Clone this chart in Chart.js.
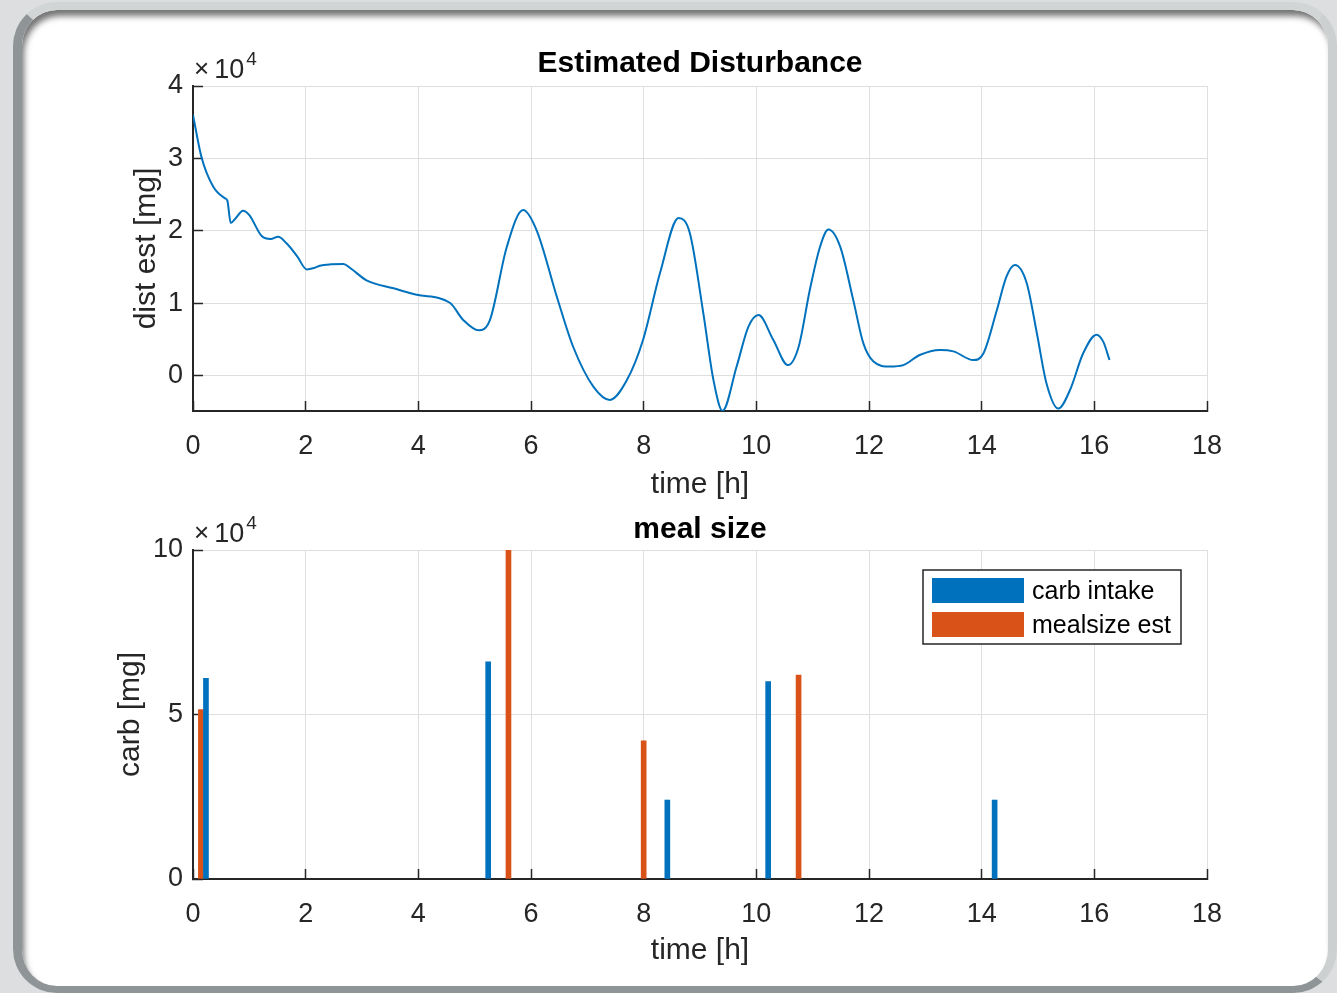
<!DOCTYPE html>
<html><head><meta charset="utf-8">
<script src="https://cdn.jsdelivr.net/npm/chart.js@4.4.0/dist/chart.umd.min.js"></script>
<style>
html,body{margin:0;padding:0;background:#dcdedf;width:1337px;height:993px;overflow:hidden;}
#frame{position:absolute;left:13px;top:2px;width:1324px;height:991px;box-sizing:border-box;border-radius:44px;background:#fff;border-style:solid;border-width:8px 9px 7px 9px;border-color:#d2d5d6 #cdd0d1 #8f9496 #8f9496;box-shadow:inset 3px 7px 6px -1px rgba(0,0,0,0.55);}
canvas{position:absolute;left:0;}
#c1{top:0}
#c2{top:500px}
</style></head>
<body>
<div id="frame"></div>
<canvas id="c1" width="1337" height="503"></canvas>
<canvas id="c2" width="1337" height="493"></canvas>
<script>
// ---- data ----
const timeH = [0, 0.15, 0.36, 0.57, 0.61, 0.67, 0.75, 0.89, 1.0, 1.22, 1.38, 1.51, 1.66, 1.85, 2.02, 2.15, 2.25, 2.45, 2.67, 2.79, 3.08, 3.56, 3.97, 4.56, 4.8, 5.07, 5.27, 5.57, 5.86, 6.1, 6.46, 6.75, 7.11, 7.4, 7.7, 7.99, 8.29, 8.62, 8.82, 9.06, 9.24, 9.4, 9.65, 9.86, 10.04, 10.3, 10.56, 10.75, 10.95, 11.13, 11.28, 11.49, 11.72, 11.9, 12.08, 12.37, 12.61, 12.9, 13.26, 13.5, 13.85, 14.03, 14.27, 14.44, 14.59, 14.8, 14.98, 15.15, 15.36, 15.57, 15.8, 16.04, 16.16, 16.27];
const distEst = [36000, 30200, 26100, 24500, 24200, 21100, 21700, 22800, 22200, 19300, 18900, 19200, 18300, 16500, 14700, 14900, 15200, 15400, 15450, 14900, 13200, 12100, 11200, 10100, 7700, 6300, 7700, 17800, 22900, 20100, 10900, 4000, -1500, -3300, -600, 5000, 14200, 21800, 19700, 8600, -600, -4800, 1300, 6800, 8400, 5000, 1500, 4000, 11900, 17800, 20200, 17800, 10500, 4500, 2000, 1300, 1500, 2900, 3600, 3400, 2200, 3100, 9100, 13700, 15300, 12800, 5900, -1000, -4500, -1900, 3100, 5700, 4700, 2200];
const carbTimes = [0.23, 5.24, 8.42, 10.21, 14.23];
const carbIntake = [61000, 66000, 24000, 60000, 24000];
const mealTimes = [0.14, 5.6, 8.0, 10.75];
const mealEst = [51500, 100000, 42000, 62000];
const xTickValues = [0, 2, 4, 6, 8, 10, 12, 14, 16, 18];
const yTopTickValues = [0, 10000, 20000, 30000, 40000];
const yBotTickValues = [0, 50000, 100000];
const seriesNames = ['carb intake', 'mealsize est'];

const FONT = "'Liberation Sans', Arial, Helvetica, sans-serif";
const BLUE = '#0072BD', ORANGE = '#D95319', AX = '#262626', GRID = '#dfdfdf';

const expPlugin = {
  id: 'exp',
  afterDraw(chart) {
    const ctx = chart.ctx, a = chart.chartArea;
    ctx.save();
    ctx.fillStyle = AX;
    ctx.textBaseline = 'alphabetic';
    ctx.textAlign = 'left';
    ctx.font = '26px ' + FONT;
    const x0 = a.left + 1, y0 = a.top - 8;
    ctx.fillText('\u00d7', x0, y0 - 1);
    const w1 = ctx.measureText('\u00d7').width;
    ctx.font = '27px ' + FONT;
    ctx.fillText('10', x0 + w1 + 5, y0);
    const w2 = ctx.measureText('10').width;
    ctx.font = '19px ' + FONT;
    ctx.fillText('4', x0 + w1 + 7 + w2, y0 - 13);
    ctx.restore();
  }
};

const legendPlugin = {
  id: 'boxlegend',
  afterDraw(chart) {
    const ctx = chart.ctx, a = chart.chartArea;
    const R = a.right - 26, T = a.top + 20, W = 258, H = 74;
    const L = R - W;
    ctx.save();
    ctx.fillStyle = '#fff';
    ctx.fillRect(L, T, W, H);
    ctx.strokeStyle = AX; ctx.lineWidth = 1.5;
    ctx.strokeRect(L, T, W, H);
    chart.data.datasets.forEach((ds, i) => {
      const y = T + 8 + i * 34;
      ctx.fillStyle = ds.backgroundColor;
      ctx.fillRect(L + 9, y, 92, 25);
      ctx.fillStyle = '#000';
      ctx.font = '25px ' + FONT;
      ctx.textBaseline = 'middle';
      ctx.textAlign = 'left';
      ctx.fillText(ds.label, L + 109, y + 14);
    });
    ctx.restore();
  }
};

function xScale(h) {
  return {
    type: 'linear', min: 0, max: 18, offset: false,
    afterBuildTicks: s => { s.ticks = xTickValues.map(v => ({value: v})); },
    afterFit: s => { s.height = h; },
    ticks: { color: AX, font: {family: FONT, size: 27}, padding: 29, maxRotation: 0, autoSkip: false },
    grid: { color: GRID, lineWidth: 1, tickColor: AX, tickLength: -10, tickWidth: 1.5, drawTicks: true, offset: false },
    border: { color: AX, width: 2 },
    title: { display: true, text: 'time [h]', color: AX, font: {family: FONT, size: 30}, padding: {top: 0, bottom: 0} }
  };
}
function yScale(min, max, tickVals, w, label) {
  return {
    type: 'linear', min: min, max: max,
    afterBuildTicks: s => { s.ticks = tickVals.map(v => ({value: v})); },
    afterFit: s => { s.width = w; },
    ticks: { color: AX, font: {family: FONT, size: 27}, padding: 20, callback: v => String(v / 10000) },
    grid: { color: GRID, lineWidth: 1, tickColor: AX, tickLength: -10, tickWidth: 1.5, drawTicks: true },
    border: { color: AX, width: 2 },
    title: { display: true, text: label, color: AX, font: {family: FONT, size: 30}, padding: 0 }
  };
}

new Chart(document.getElementById('c1'), {
  type: 'line',
  data: { datasets: [{
    label: 'dist est',
    data: timeH.map((t, i) => ({x: t, y: distEst[i]})),
    borderColor: BLUE, borderWidth: 2, pointRadius: 0, cubicInterpolationMode: 'monotone', fill: false
  }]},
  options: {
    responsive: false, animation: false, devicePixelRatio: 1,
    layout: { padding: {left: 129, right: 130, top: 0, bottom: 0} },
    plugins: {
      legend: {display: false}, tooltip: {enabled: false},
      title: { display: true, text: 'Estimated Disturbance', color: '#000', fullSize: false,
        font: {family: FONT, size: 30, weight: 'bold'}, padding: {top: 46, bottom: 4} }
    },
    scales: {
      x: xScale(92),
      y: yScale(-4828, 40000, yTopTickValues, 64, 'dist est [mg]')
    }
  },
  plugins: [expPlugin]
});

new Chart(document.getElementById('c2'), {
  type: 'bar',
  data: { datasets: [
    { label: seriesNames[0], data: carbTimes.map((t, i) => ({x: t, y: carbIntake[i]})),
      backgroundColor: BLUE, borderWidth: 0, barThickness: 5, grouped: false },
    { label: seriesNames[1], data: mealTimes.map((t, i) => ({x: t, y: mealEst[i]})),
      backgroundColor: ORANGE, borderWidth: 0, barThickness: 5, grouped: false }
  ]},
  options: {
    responsive: false, animation: false, devicePixelRatio: 1,
    layout: { padding: {left: 113, right: 130, top: 0, bottom: 24} },
    plugins: {
      legend: {display: false}, tooltip: {enabled: false},
      title: { display: true, text: 'meal size', color: '#000', fullSize: false,
        font: {family: FONT, size: 30, weight: 'bold'}, padding: {top: 12, bottom: 2} }
    },
    scales: {
      x: xScale(90),
      y: yScale(0, 100000, yBotTickValues, 80, 'carb [mg]')
    }
  },
  plugins: [expPlugin, legendPlugin]
});
</script>
</body></html>
